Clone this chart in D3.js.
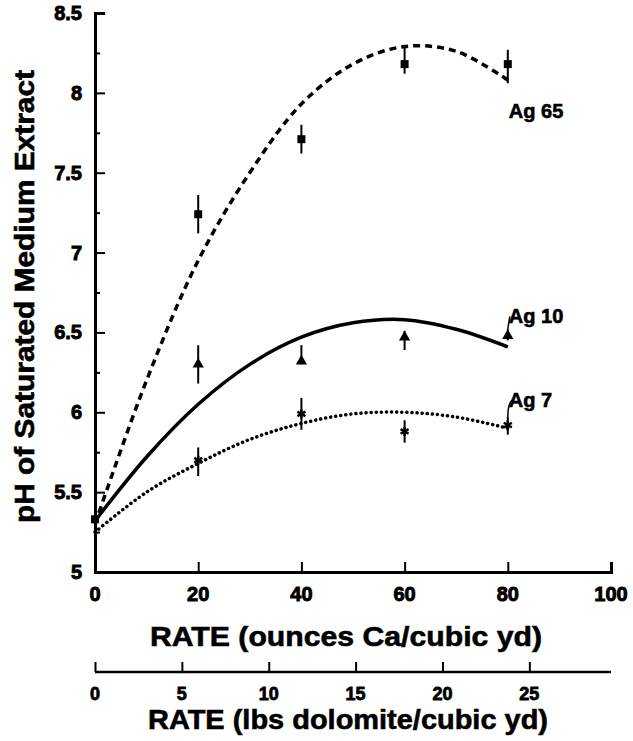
<!DOCTYPE html>
<html>
<head>
<meta charset="utf-8">
<script src="https://cdn.jsdelivr.net/npm/d3@7"></script>
<style>
body { margin: 0; background: #fff; }
text { font-family: "Liberation Sans", Arial, sans-serif; font-weight: bold; fill: #000; stroke: #000; stroke-width: 0.6px; }
</style>
</head>
<body>
<div id="chart"></div>
<script>
// rates (ounces Ca / cubic yd)
var rates = [0, 20, 40, 60, 80];
var curveRates = [0, 10, 20, 30, 40, 50, 60, 70, 80];

// measured pH, with error bar ends
var ag65 = [5.33, 7.24, 7.71, 8.18, 8.18];
var ag65Lo = [5.33, 7.12, 7.62, 8.12, 8.06];
var ag65Hi = [5.33, 7.36, 7.80, 8.29, 8.27];

var ag10 = [5.33, 6.30, 6.32, 6.47, 6.48];
var ag10Lo = [5.33, 6.18, 6.30, 6.39, 6.45];
var ag10Hi = [5.33, 6.42, 6.42, 6.51, 6.52];

var ag7 = [5.33, 5.70, 5.99, 5.88, 5.92];
var ag7Lo = [5.33, 5.60, 5.89, 5.81, 5.86];
var ag7Hi = [5.33, 5.78, 6.09, 5.95, 5.97];

// fitted curves
var fit65 = [5.30, 6.20, 6.95, 7.50, 7.93, 8.18, 8.29, 8.26, 8.08];
var fit10 = [5.32, 5.72, 6.05, 6.30, 6.47, 6.56, 6.58, 6.52, 6.41];
var fit7 = [5.25, 5.50, 5.68, 5.83, 5.93, 5.99, 6.00, 5.97, 5.90];

var yTicks = [5, 5.5, 6, 6.5, 7, 7.5, 8, 8.5];
var xTicks = [0, 20, 40, 60, 80, 100];
var lbsTicks = [0, 5, 10, 15, 20, 25];

var width = 633, height = 741;

var svg = d3.select("#chart").append("svg")
    .attr("width", width)
    .attr("height", height);

var x = d3.scaleLinear().domain([0, 100]).range([95, 611]);
var y = d3.scaleLinear().domain([5, 8.5]).range([572, 13]);
var xLbs = d3.scaleLinear().domain([0, 29.7]).range([95, 611]);

// y axis
var yAxis = svg.append("g")
    .attr("transform", "translate(" + x(0) + ",0)")
    .call(d3.axisRight(y).tickValues(d3.range(5, 8.51, 0.25)).tickSize(10).tickFormat(""));
yAxis.select(".domain").attr("stroke-width", 3);
yAxis.selectAll(".tick line")
    .attr("stroke-width", 2)
    .attr("x2", function (d) { return (d * 2) % 1 === 0 ? 10 : 5; });

svg.selectAll(".ylab")
    .data(yTicks)
    .enter().append("text")
    .attr("class", "ylab")
    .attr("x", 82)
    .attr("y", function (d) { return y(d) + 7; })
    .attr("text-anchor", "end")
    .style("font-size", "20px")
    .style("stroke-width", "0.9px")
    .text(function (d) { return d; });

// x axis (ounces)
var xAxis = svg.append("g")
    .attr("transform", "translate(0," + y(5) + ")")
    .call(d3.axisTop(x).tickValues([20, 40, 60, 80]).tickSize(10).tickFormat(""));
xAxis.select(".domain").attr("stroke-width", 3);
xAxis.selectAll(".tick line").attr("stroke-width", 2);

svg.selectAll(".xlab")
    .data(xTicks)
    .enter().append("text")
    .attr("class", "xlab")
    .attr("x", function (d) { return x(d); })
    .attr("y", 601)
    .attr("text-anchor", "middle")
    .style("font-size", "20px")
    .style("stroke-width", "0.9px")
    .text(function (d) { return d; });

// second x axis (lbs dolomite)
var lbsAxis = svg.append("g")
    .attr("transform", "translate(0,672)")
    .call(d3.axisTop(xLbs).tickValues(lbsTicks).tickSize(10).tickFormat(""));
lbsAxis.select(".domain").attr("stroke-width", 2.5).attr("d", "M" + xLbs(0) + ",0H" + xLbs(29.7));
lbsAxis.selectAll(".tick line").attr("stroke-width", 2);

svg.selectAll(".lbslab")
    .data(lbsTicks)
    .enter().append("text")
    .attr("class", "lbslab")
    .attr("x", function (d) { return xLbs(d); })
    .attr("y", 700)
    .attr("text-anchor", "middle")
    .style("font-size", "18px")
    .style("stroke-width", "0.8px")
    .text(function (d) { return d; });

// axis titles
svg.append("text")
    .attr("x", 150).attr("y", 646)
    .attr("textLength", 392)
    .attr("lengthAdjust", "spacingAndGlyphs")
    .style("font-size", "28px")
    .text("RATE (ounces Ca/cubic yd)");

svg.append("text")
    .attr("x", 148).attr("y", 729)
    .attr("textLength", 400)
    .attr("lengthAdjust", "spacingAndGlyphs")
    .style("font-size", "28px")
    .text("RATE (lbs dolomite/cubic yd)");

svg.append("text")
    .attr("transform", "translate(34,523) rotate(-90)")
    .attr("textLength", 453)
    .attr("lengthAdjust", "spacingAndGlyphs")
    .style("font-size", "28px")
    .text("pH of Saturated Medium Extract");

// fitted curves
var line = d3.line()
    .x(function (d) { return x(d[0]); })
    .y(function (d) { return y(d[1]); })
    .curve(d3.curveCatmullRom);

function pairs(xs, ys) {
    return xs.map(function (v, i) { return [v, ys[i]]; });
}

svg.append("path")
    .datum(pairs(curveRates, fit65))
    .attr("d", line)
    .attr("fill", "none")
    .attr("stroke", "#000")
    .attr("stroke-width", 3.5)
    .attr("stroke-dasharray", "7,5");

svg.append("path")
    .datum(pairs(curveRates, fit10))
    .attr("d", line)
    .attr("fill", "none")
    .attr("stroke", "#000")
    .attr("stroke-width", 3.5);

svg.append("path")
    .datum(pairs(curveRates, fit7))
    .attr("d", line)
    .attr("fill", "none")
    .attr("stroke", "#000")
    .attr("stroke-width", 3.5)
    .attr("stroke-linecap", "round")
    .attr("stroke-dasharray", "0.1,5");

// error bars
function errorBars(lo, hi) {
    svg.append("g").selectAll("line")
        .data(rates)
        .enter().append("line")
        .attr("x1", function (d) { return x(d); })
        .attr("x2", function (d) { return x(d); })
        .attr("y1", function (d, i) { return y(lo[i]); })
        .attr("y2", function (d, i) { return y(hi[i]); })
        .attr("stroke", "#000")
        .attr("stroke-width", 2);
}
errorBars(ag65Lo, ag65Hi);
errorBars(ag10Lo, ag10Hi);
errorBars(ag7Lo, ag7Hi);

// markers
svg.append("g").selectAll("path")
    .data(pairs(rates, ag65))
    .enter().append("path")
    .attr("transform", function (d) { return "translate(" + x(d[0]) + "," + y(d[1]) + ")"; })
    .attr("d", d3.symbol().type(d3.symbolSquare).size(64));

svg.append("g").selectAll("path")
    .data(pairs(rates.slice(1), ag10.slice(1)))
    .enter().append("path")
    .attr("transform", function (d) { return "translate(" + x(d[0]) + "," + y(d[1]) + ")"; })
    .attr("d", d3.symbol().type(d3.symbolTriangle).size(55));

svg.append("g").selectAll("path")
    .data(pairs(rates.slice(1), ag7.slice(1)))
    .enter().append("path")
    .attr("transform", function (d) { return "translate(" + x(d[0]) + "," + y(d[1]) + ")"; })
    .attr("d", d3.symbol().type(d3.symbolAsterisk).size(60))
    .attr("stroke", "#000")
    .attr("stroke-width", 2.5);

// series labels
var seriesLabels = [
    { name: "Ag 65", value: 7.84 },
    { name: "Ag 10", value: 6.56 },
    { name: "Ag 7", value: 6.03 }
];
svg.selectAll(".slab")
    .data(seriesLabels)
    .enter().append("text")
    .attr("class", "slab")
    .attr("x", x(80) + 1)
    .attr("y", function (d) { return y(d.value); })
    .style("font-size", "20px")
    .text(function (d) { return d.name; });

// leader strokes from Ag 10 and Ag 7 labels to their points
svg.append("path")
    .attr("d", "M" + x(80) + "," + y(6.52) + "L" + (x(80) + 2) + "," + y(6.6))
    .attr("stroke", "#000").attr("stroke-width", 1.5).attr("fill", "none");
svg.append("path")
    .attr("d", "M" + x(80) + "," + y(5.97) + "Q" + x(80) + "," + y(6.06) + " " + (x(80) + 5) + "," + y(6.08))
    .attr("stroke", "#000").attr("stroke-width", 1.5).attr("fill", "none");
</script>
</body>
</html>
